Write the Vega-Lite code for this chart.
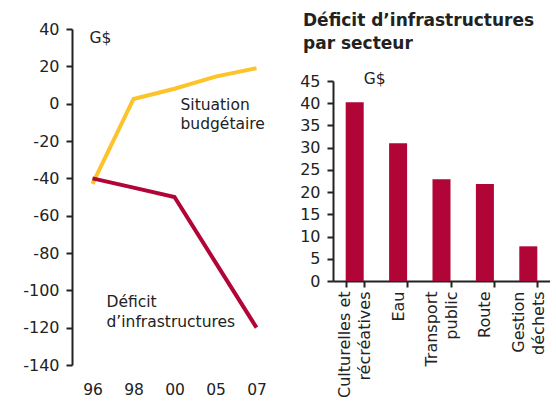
{
  "$schema": "https://vega.github.io/schema/vega-lite/v6.json",
  "padding": {"left": 22, "top": 12, "right": 0, "bottom": 0},
  "background": "white",
  "bounds": "flush",
  "config": {
    "font": "DejaVu Sans",
    "view": {"stroke": null},
    "axis": {"labelFont": "DejaVu Sans", "labelFontSize": 16, "labelColor": "#222222", "domainColor": "#222222", "tickColor": "#222222", "grid": false}
  },
  "spacing": 56,
  "hconcat": [
    {
      "width": 205,
      "height": 336,
      "data": {"values": [
        {"year": "96", "series": "Situation budgétaire", "value": -43},
        {"year": "98", "series": "Situation budgétaire", "value": 2.5},
        {"year": "00", "series": "Situation budgétaire", "value": 8},
        {"year": "05", "series": "Situation budgétaire", "value": 14.5},
        {"year": "07", "series": "Situation budgétaire", "value": 19},
        {"year": "96", "series": "Déficit d’infrastructures", "value": -40},
        {"year": "98", "series": "Déficit d’infrastructures", "value": -45},
        {"year": "00", "series": "Déficit d’infrastructures", "value": -50},
        {"year": "05", "series": "Déficit d’infrastructures", "value": -85},
        {"year": "07", "series": "Déficit d’infrastructures", "value": -120}
      ]},
      "layer": [
        {
          "mark": {"type": "line", "strokeWidth": 4, "strokeJoin": "miter"},
          "encoding": {
            "x": {"field": "year", "type": "ordinal", "sort": ["96", "98", "00", "05", "07"],
                  "scale": {"type": "point", "padding": 0.5},
                  "axis": {"title": null, "labelAngle": 0, "domain": false, "ticks": false, "labelPadding": 17, "labelFontSize": 15.5}},
            "y": {"field": "value", "type": "quantitative",
                  "scale": {"domain": [-140, 40], "nice": false, "zero": false},
                  "axis": {"title": null, "values": [-140, -120, -100, -80, -60, -40, -20, 0, 20, 40], "tickCount": 12, "labelExpr": "'' + datum.value", "labelOverlap": false, "domainWidth": 2, "tickSize": 6, "tickWidth": 2, "labelPadding": 7}},
            "color": {"field": "series", "type": "nominal",
                      "scale": {"domain": ["Situation budgétaire", "Déficit d’infrastructures"], "range": ["#FDC32A", "#B10538"]},
                      "legend": null}
          }
        },
        {
          "data": {"values": [
            {"label": "G$", "year": "96", "value": 35}
          ]},
          "mark": {"type": "text", "align": "left", "baseline": "middle", "fontSize": 15.5, "color": "#222222", "dx": -3},
          "encoding": {
            "x": {"field": "year", "type": "ordinal", "sort": ["96", "98", "00", "05", "07"]},
            "y": {"field": "value", "type": "quantitative"},
            "text": {"field": "label"}
          }
        },
        {
          "data": {"values": [
            {"label": "Situation", "year": "00", "value": -0.7},
            {"label": "budgétaire", "year": "00", "value": -10.9}
          ]},
          "mark": {"type": "text", "align": "left", "baseline": "middle", "fontSize": 15.5, "color": "#222222", "dx": 6},
          "encoding": {
            "x": {"field": "year", "type": "ordinal", "sort": ["96", "98", "00", "05", "07"]},
            "y": {"field": "value", "type": "quantitative"},
            "text": {"field": "label"}
          }
        },
        {
          "data": {"values": [
            {"label": "Déficit", "year": "96", "value": -106.2},
            {"label": "d’infrastructures", "year": "96", "value": -116.9}
          ]},
          "mark": {"type": "text", "align": "left", "baseline": "middle", "fontSize": 15.5, "color": "#222222", "dx": 14},
          "encoding": {
            "x": {"field": "year", "type": "ordinal", "sort": ["96", "98", "00", "05", "07"]},
            "y": {"field": "value", "type": "quantitative"},
            "text": {"field": "label"}
          }
        }
      ]
    },
    {
      "bounds": "flush",
      "spacing": 10,
      "vconcat": [
        {
          "width": 217,
          "height": 42,
          "title": {"text": ["Déficit d’infrastructures", "par secteur"], "anchor": "start", "frame": "group", "dx": -30, "offset": -24, "fontSize": 17, "fontWeight": "bold", "color": "#222222", "lineHeight": 23},
          "data": {"values": [{"label": ""}]},
          "mark": {"type": "text"},
          "encoding": {"text": {"field": "label"}}
        },
        {
          "width": 217,
          "height": 200,
          "data": {"values": [
            {"sector": "Culturelles et|récréatives", "value": 40.2},
            {"sector": "Eau", "value": 31},
            {"sector": "Transport|public", "value": 22.9},
            {"sector": "Route", "value": 21.8},
            {"sector": "Gestion|déchets", "value": 7.8}
          ]},
          "layer": [
            {
              "mark": {"type": "bar", "color": "#B10538"},
              "encoding": {
                "x": {"field": "sector", "type": "nominal", "sort": null,
                      "scale": {"paddingInner": 0.585, "paddingOuter": 0.2925},
                      "axis": {"title": null, "labelAngle": -90, "labelAlign": "right", "labelBaseline": "middle", "tickBand": "extent", "tickSize": 6, "tickWidth": 2, "domainWidth": 2, "labelPadding": 4, "labelExpr": "split(datum.label, '|')", "labelLineHeight": 20,
                               "labelOffset": {"condition": {"test": "indexof(datum.label, '|') >= 0", "value": -10}, "value": 0}}},
                "y": {"field": "value", "type": "quantitative",
                      "scale": {"domain": [0, 45], "nice": false},
                      "axis": {"title": null, "values": [0, 5, 10, 15, 20, 25, 30, 35, 40, 45], "tickCount": 12, "labelOverlap": false, "domainWidth": 2, "tickSize": 6, "tickWidth": 2, "labelPadding": 7}}
              }
            },
            {
              "data": {"values": [{"label": "G$", "sector": "Culturelles et|récréatives", "value": 45.4}]},
              "mark": {"type": "text", "align": "left", "baseline": "middle", "fontSize": 15.5, "color": "#222222", "dx": 9},
              "encoding": {
                "x": {"field": "sector", "type": "nominal", "sort": null},
                "y": {"field": "value", "type": "quantitative"},
                "text": {"field": "label"}
              }
            }
          ]
        }
      ]
    }
  ]
}
